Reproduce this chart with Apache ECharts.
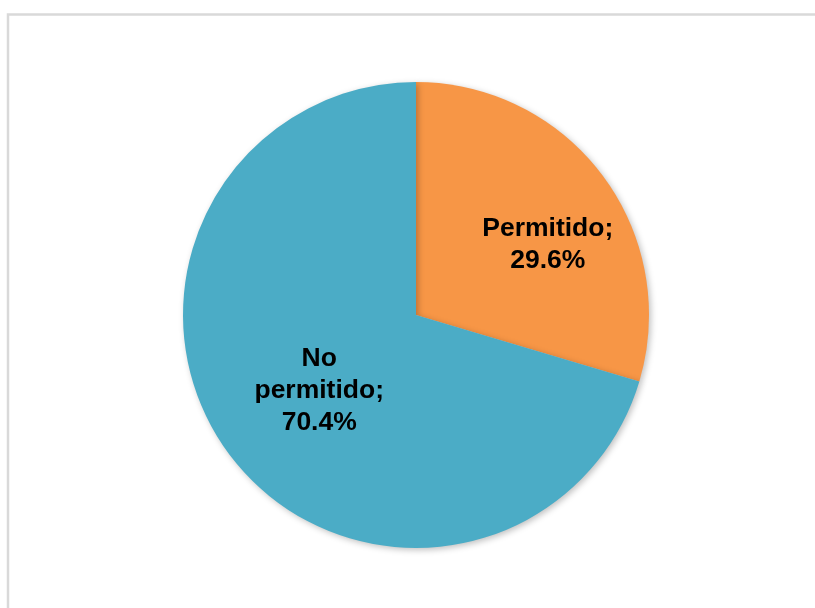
<!DOCTYPE html>
<html>
<head>
<meta charset="utf-8">
<script src="https://cdn.jsdelivr.net/npm/echarts@6/dist/echarts.min.js"></script>
<style>
html,body{margin:0;padding:0;background:#fff;}
#chart{width:815px;height:608px;}
</style>
</head>
<body>
<div id="chart"></div>
<script>
const categories = ['Permitido', 'No permitido'];
const values = [29.6, 70.4];
const colors = ['#F79646', '#4BACC6'];
const labelOffsets = [[36, 1], [-1, 4]];

const chart = echarts.init(document.getElementById('chart'), null, {renderer: 'canvas'});
chart.setOption({
  animation: false,
  backgroundColor: '#ffffff',
  graphic: [{
    type: 'rect',
    shape: {x: 8, y: 14.5, width: 1000, height: 800},
    style: {fill: 'none', stroke: '#d9d9d9', lineWidth: 2.5},
    silent: true,
    z: 0
  }],
  series: [{
    type: 'pie',
    center: [416, 315],
    radius: [0, 233],
    startAngle: 90,
    clockwise: true,
    data: categories.map((c, i) => ({
      name: c,
      value: values[i],
      itemStyle: {color: colors[i]},
      label: {offset: labelOffsets[i]}
    })),
    itemStyle: {
      shadowBlur: 6,
      shadowColor: 'rgba(0,0,0,0.25)',
      shadowOffsetX: 2,
      shadowOffsetY: 2
    },
    label: {
      show: true,
      position: 'inside',
      formatter: p => p.name.replace(' ', '\n') + ';\n' + p.value.toFixed(1) + '%',
      fontFamily: 'Liberation Sans, Arial, sans-serif',
      fontWeight: 'bold',
      fontSize: 26.5,
      lineHeight: 32,
      color: '#000000',
      align: 'center'
    },
    labelLine: {show: false},
    emphasis: {disabled: true}
  }]
});
</script>
</body>
</html>
